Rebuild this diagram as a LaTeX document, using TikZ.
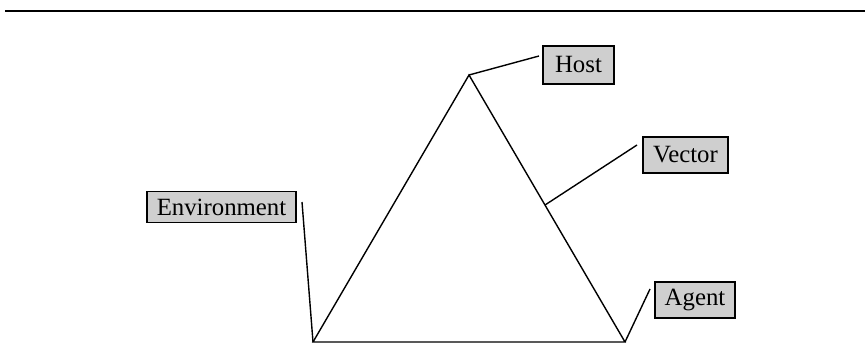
\documentclass[tikz,border=0pt]{standalone}
\usepackage{fontspec}
\setmainfont{Liberation Serif}
\begin{document}
\begin{tikzpicture}[x=0.5pt,y=-0.5pt,
  lbl/.style={draw=black,line width=0.6pt,fill=gray!38,inner sep=0pt,font=\fontsize{12.4}{14}\selectfont},
  ln/.style={line width=0.7pt}]
\useasboundingbox (0,0) rectangle (865,358);
\coordinate (L0) at (5,11);
\coordinate (L1) at (865,11);
\draw[line width=1.1pt] (L0) -- (L1);
% triangle
\coordinate (A) at (469,75);
\coordinate (BL) at (313,342);
\coordinate (BR) at (625,342);
\draw[ln] (A) -- (BL) -- (BR) -- cycle;
% labels
\node[lbl,minimum width=35.5pt,minimum height=19pt] (host) at (578.5,65) {Host};
\node[lbl,minimum width=42.5pt,minimum height=18pt] (vector) at (685.5,155) {Vector};
\node[lbl,minimum width=74.5pt,minimum height=15.5pt] (env) at (221.5,207) {Environment};
\node[lbl,minimum width=40pt,minimum height=18pt] (agent) at (695,300) {Agent};
% connector ends
\coordinate (hE) at (539,56);
\coordinate (vE) at (637,145);
\coordinate (vP) at (545,205);
\coordinate (eE) at (302,202);
\coordinate (aE) at (650,289);
\draw[ln] (A) -- (hE);
\draw[ln] (vP) -- (vE);
\draw[ln] (eE) -- (BL);
\draw[ln] (BR) -- (aE);
\end{tikzpicture}
\end{document}
